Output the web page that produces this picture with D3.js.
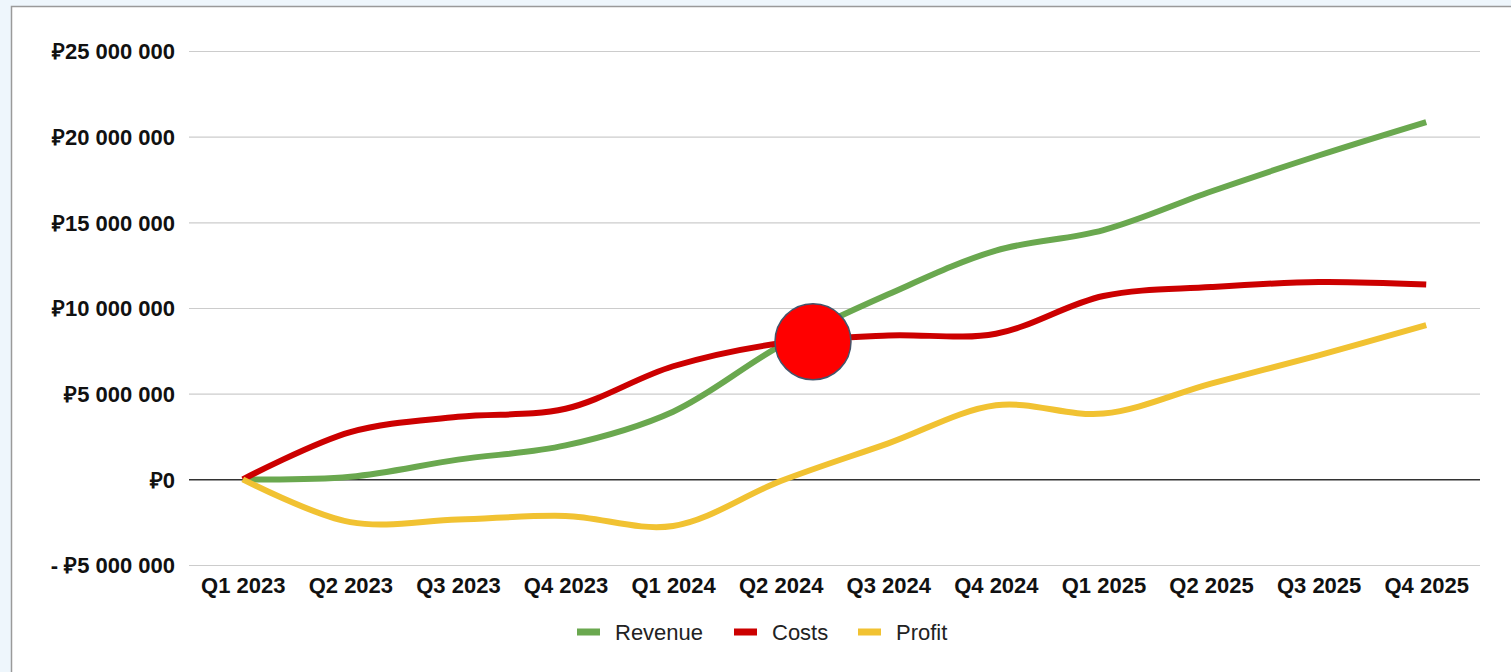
<!DOCTYPE html>
<html>
<head>
<meta charset="utf-8">
<script src="https://cdn.jsdelivr.net/npm/d3@7"></script>
<style>
  html, body { margin: 0; padding: 0; background: #eef6fc; }
  svg { display: block; }
</style>
</head>
<body>
<svg id="chart" width="1511" height="672"></svg>
<script>
// ---- data ----
const categories = ["Q1 2023","Q2 2023","Q3 2023","Q4 2023","Q1 2024","Q2 2024","Q3 2024","Q4 2024","Q1 2025","Q2 2025","Q3 2025","Q4 2025"];
const revenue = [0, 150000, 1150000, 1980000, 3950000, 7800000, 10800000, 13350000, 14550000, 16800000, 18900000, 20850000];
const costs   = [0, 2760000, 3650000, 4120000, 6600000, 7950000, 8400000, 8500000, 10700000, 11220000, 11520000, 11370000];
const profit  = [0, -2500000, -2350000, -2140000, -2720000, -100000, 2100000, 4320000, 3840000, 5590000, 7240000, 9000000];
const seriesNames = ["Revenue","Costs","Profit"];
const seriesColors = ["#6aa84f","#cc0000","#f1c232"];
const yTicks = [-5000000, 0, 5000000, 10000000, 15000000, 20000000, 25000000];
// highlighted crossover marker: position between categories (index) and value
const markerIndex = [5.3];
const markerValue = [8030000];

// ---- layout ----
const svg = d3.select("#chart");
const W = 1511, H = 672;
const plot = { left: 189, right: 1480, top: 51, bottom: 565 };
const font = "'Liberation Sans', Arial, Helvetica, sans-serif";

// panel
svg.append("rect")
  .attr("x", 11.5).attr("y", 6.5).attr("width", W + 10).attr("height", H + 10)
  .attr("fill", "#ffffff").attr("stroke", "#9a9a9a").attr("stroke-width", 1.5);

const x = d3.scalePoint().domain(categories).range([plot.left, plot.right]).padding(0.5);
const y = d3.scaleLinear().domain([-5000000, 25000000]).range([plot.bottom, plot.top]);

function fmt(v) {
  const s = d3.format(",")(Math.abs(v)).replace(/,/g, " ");
  return (v < 0 ? "- " : "") + "₽" + s;
}

// gridlines
const grid = svg.append("g").attr("transform", `translate(${plot.left},0)`)
  .call(d3.axisLeft(y).tickValues(yTicks).tickSize(-(plot.right - plot.left)).tickFormat(""));
grid.select(".domain").remove();
grid.selectAll(".tick line")
  .attr("stroke", d => d === 0 ? "#333333" : "#cccccc")
  .attr("stroke-width", d => d === 0 ? 1.5 : 1.2);

// y labels
const yAxis = svg.append("g").attr("transform", `translate(${plot.left - 14},0)`)
  .call(d3.axisLeft(y).tickValues(yTicks).tickSize(0).tickPadding(0).tickFormat(fmt));
yAxis.select(".domain").remove();
yAxis.selectAll("text")
  .attr("font-family", font).attr("font-size", 22).attr("font-weight", "bold")
  .attr("fill", "#111").attr("dy", "0.35em");

// x labels
const xAxis = svg.append("g").attr("transform", `translate(0,${plot.bottom})`)
  .call(d3.axisBottom(x).tickSize(0).tickPadding(0));
xAxis.select(".domain").remove();
xAxis.selectAll("text")
  .attr("font-family", font).attr("font-size", 22).attr("font-weight", "bold")
  .attr("fill", "#111").attr("y", 28).attr("dy", 0);

// lines
const data = [revenue, costs, profit];
const line = d3.line()
  .x((d, i) => x(categories[i]))
  .y(d => y(d))
  .curve(d3.curveCatmullRom.alpha(0.5));

svg.append("g").selectAll("path")
  .data(data)
  .join("path")
  .attr("d", d => line(d))
  .attr("fill", "none")
  .attr("stroke", (d, i) => seriesColors[i])
  .attr("stroke-width", 6)
  .attr("stroke-linejoin", "round");

// marker
svg.append("g").selectAll("circle")
  .data(markerIndex)
  .join("circle")
  .attr("cx", d => x(categories[Math.floor(d)]) + (d - Math.floor(d)) * x.step())
  .attr("cy", (d, i) => y(markerValue[i]))
  .attr("r", 38)
  .attr("fill", "#ff0000")
  .attr("stroke", "#44546a")
  .attr("stroke-width", 1.5);

// legend
const legendItems = [
  { name: seriesNames[0], color: seriesColors[0], sx: 577, tx: 615 },
  { name: seriesNames[1], color: seriesColors[1], sx: 734, tx: 772 },
  { name: seriesNames[2], color: seriesColors[2], sx: 858, tx: 896 }
];
const lg = svg.append("g");
lg.selectAll("rect").data(legendItems).join("rect")
  .attr("x", d => d.sx).attr("y", 628.5).attr("width", 23).attr("height", 7)
  .attr("fill", d => d.color);
lg.selectAll("text").data(legendItems).join("text")
  .attr("x", d => d.tx).attr("y", 639.5)
  .attr("font-family", font).attr("font-size", 22)
  .attr("fill", "#222").text(d => d.name);
</script>
</body>
</html>
